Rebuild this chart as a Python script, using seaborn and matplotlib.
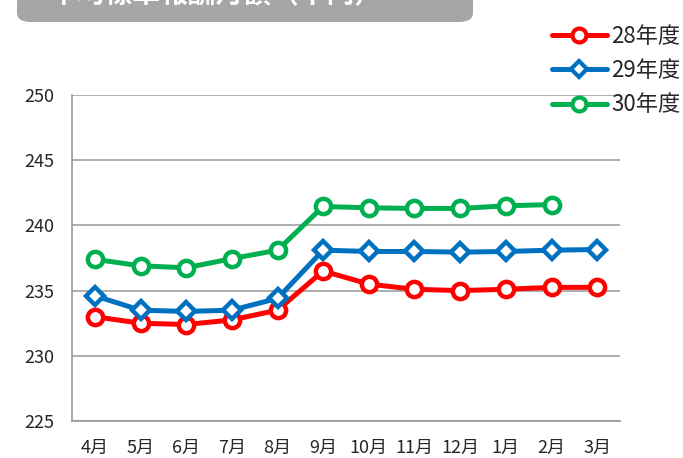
import numpy as np
import pandas as pd
import matplotlib
matplotlib.use('Agg')
import matplotlib.pyplot as plt
import seaborn as sns
from matplotlib.patches import FancyBboxPatch
from matplotlib.lines import Line2D

months = ['4月', '5月', '6月', '7月', '8月', '9月', '10月', '11月', '12月', '1月', '2月', '3月']
h28 = [233.0, 232.5, 232.4, 232.75, 233.5, 236.5, 235.5, 235.1, 235.0, 235.1, 235.25, 235.25]
h29 = [234.6, 233.5, 233.4, 233.5, 234.4, 238.1, 238.0, 238.0, 237.95, 238.0, 238.1, 238.15]
h30 = [237.4, 236.9, 236.75, 237.45, 238.1, 241.45, 241.35, 241.3, 241.3, 241.5, 241.6, np.nan]
series = ['28年度', '29年度', '30年度']
title = '平均標準報酬月額（千円）'

colors = {'28年度': '#FF0000', '29年度': '#0070C0', '30年度': '#00B050'}
markers = {'28年度': 'o', '29年度': 'D', '30年度': 'o'}
msize = {'28年度': 11, '29年度': 9, '30年度': 11}

sns.set_style('white')
plt.rcParams['font.family'] = ['Noto Sans CJK JP', 'DejaVu Sans']

df = pd.DataFrame({'月': months, '28年度': h28, '29年度': h29, '30年度': h30})
df['x'] = np.arange(len(months))

fig = plt.figure(figsize=(6.83, 4.58), dpi=100)
ax = fig.add_axes([72 / 683, 1 - 421 / 458, (620 - 72) / 683, (421 - 95) / 458])

for s in series:
    d = df[['x', s]].dropna()
    sns.lineplot(x=d['x'], y=d[s], ax=ax, color=colors[s], linewidth=3.6,
                 marker=markers[s], markersize=msize[s], markerfacecolor='white',
                 markeredgecolor=colors[s], markeredgewidth=3.2, legend=False, zorder=3)

ax.set_xlim(-0.5, len(months) - 0.5)
ax.set_ylim(225, 250)
ax.set_yticks(np.arange(225, 251, 5))
ax.set_xticks(np.arange(-0.5, len(months), 1))
ax.set_xticklabels([])
ax.set_xticks(np.arange(len(months)), minor=True)
ax.set_xticklabels(months, minor=True)
ax.tick_params(axis='x', which='major', length=4, width=1, color='#999999', direction='out')
ax.tick_params(axis='x', which='minor', length=0, pad=13, labelsize=13)
ax.tick_params(axis='y', length=4, width=1, color='#999999', direction='out', pad=9, labelsize=13)
ax.set_xlabel('')
ax.set_ylabel('')
ax.yaxis.grid(True, color='#A0A0A0', linewidth=1.2)
ax.xaxis.grid(False)
for sp in ['top', 'right']:
    ax.spines[sp].set_visible(False)
for sp in ['left', 'bottom']:
    ax.spines[sp].set_color('#999999')
    ax.spines[sp].set_linewidth(1.2)

handles = [Line2D([0], [0], color=colors[s], linewidth=3.6, marker=markers[s],
                  markersize=msize[s] - 1, markerfacecolor='white', markeredgecolor=colors[s],
                  markeredgewidth=3) for s in series]
fig.legend(handles, series, loc='upper right', bbox_to_anchor=(1.0, 0.95), frameon=False,
           fontsize=16, handlelength=2.5, handletextpad=0.2, labelspacing=0.5,
           borderaxespad=0, borderpad=0.1)

box = FancyBboxPatch((17 / 683, 1 - 22 / 458), (473 - 17) / 683, 60 / 458,
                     boxstyle='round,pad=0,rounding_size=0.02', transform=fig.transFigure,
                     facecolor='#A6A6A6', edgecolor='none')
fig.patches.append(box)
fig.text(50 / 683, 1.012, title, color='white', fontsize=20, fontweight='bold',
         ha='left', va='center')

plt.savefig('out.png', dpi=100)
